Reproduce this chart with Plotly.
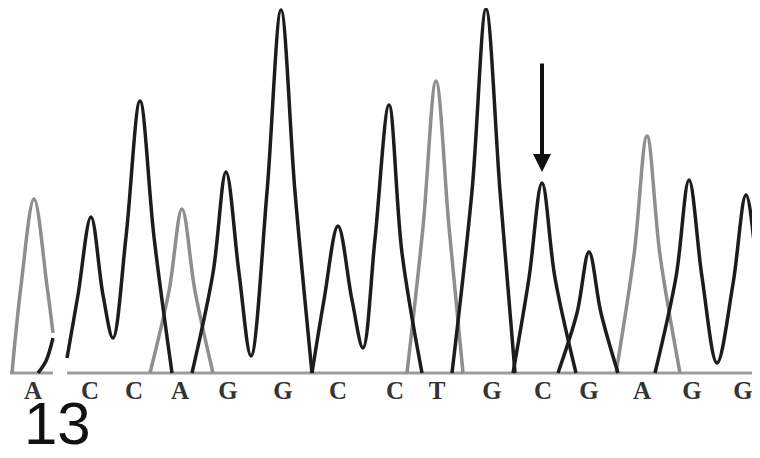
import plotly.graph_objects as go

# ---- chromatogram vertices (scan position, signal); None breaks a line ----
a_x = [12, 21, 34, 47, 53, None, 150, 169, 182, 195, 213, None, 616, 634, 647, 660, 680]
a_y = [0, 87, 174, 87, 40, None, 0, 82, 164, 82, 0, None, 0, 118, 237, 118, 0]

t_x = [407, 423, 436, 449, 463]
t_y = [0, 146, 292, 146, 0]

c_x = [38, 46, 53, None, 67, 78, 91, 103, 113, 126, 140, 154, 172, None,
       312, 324, 338, 352, 363, 375, 389, 402, 422, None, 513, 529, 542, 555, 576]
c_y = [0, 12, 35, None, 15, 78, 156, 78, 35, 136, 272, 136, 0, None,
       0, 73, 147, 73, 25, 134, 268, 120, 0, None, 0, 95, 190, 95, 0]

g_x = [192, 213, 226, 239, 251, 267, 281, 295, 312, None, 452, 472, 486, 500, 515, None,
       558, 577, 589, 601, 618, None, 655, 676, 689, 702, 717, 733, 746, 759, 772]
g_y = [0, 100, 201, 100, 17, 181, 363, 181, 0, None, 0, 182, 364, 182, 0, None,
       0, 60, 121, 60, 0, None, 0, 96, 193, 96, 10, 89, 178, 89, 0]

# ---- base calls ----
base_x = [33, 90, 134, 180, 228, 283, 338, 395, 437, 492, 543, 589, 642, 692, 743]
bases = ["A", "C", "C", "A", "G", "G", "C", "C", "T", "G", "C", "G", "A", "G", "G"]

# ---- marked position (arrow) ----
mark_x = 542
mark_signal = 201
mark_tail = 311

panel_label = "13"

# panel extents along the baseline
left_panel = [10, 53]
main_panel = [67, 770]

DARK = "#1c1c1c"
GRAY = "#8e8e8e"

fig = go.Figure()

def trace(x, y, color):
    fig.add_trace(go.Scatter(
        x=x, y=y, mode="lines",
        line=dict(color=color, width=3.5, shape="spline", smoothing=1),
        connectgaps=False, hoverinfo="skip", showlegend=False))

trace(a_x, a_y, GRAY)
trace(t_x, t_y, GRAY)
trace(c_x, c_y, DARK)
trace(g_x, g_y, DARK)

# baselines
for x0, x1 in (left_panel, main_panel):
    fig.add_shape(type="line", x0=x0, x1=x1, y0=0, y1=0, xref="x", yref="y",
                  line=dict(color="#9c9c9c", width=3), layer="below")

# arrow
fig.add_annotation(x=mark_x, y=mark_signal, ax=mark_x, ay=mark_tail, xref="x", yref="y",
                   axref="x", ayref="y", showarrow=True, arrowhead=2, arrowsize=0.9,
                   arrowwidth=4, arrowcolor="#111111", standoff=0, text="")

# panel number (below the plot area, paper coordinates)
fig.add_annotation(x=0.018, y=-0.13, xref="paper", yref="paper",
                   text=panel_label, showarrow=False, xanchor="left", yanchor="middle",
                   font=dict(family="Liberation Sans", size=60, color="#111111"))

fig.update_layout(
    width=760, height=458, margin=dict(l=0, r=0, t=0, b=90),
    paper_bgcolor="white", plot_bgcolor="white",
    xaxis=dict(range=[8, 768], fixedrange=True, showgrid=False, zeroline=False,
               showline=False, ticks="", tickmode="array", tickvals=base_x, ticktext=bases,
               ticklabelstandoff=-3,
               tickfont=dict(family="Liberation Serif", size=25, color="#333333", weight="bold")),
    yaxis=dict(range=[-3, 365], visible=False, fixedrange=True),
)

fig.write_html("out.html")
